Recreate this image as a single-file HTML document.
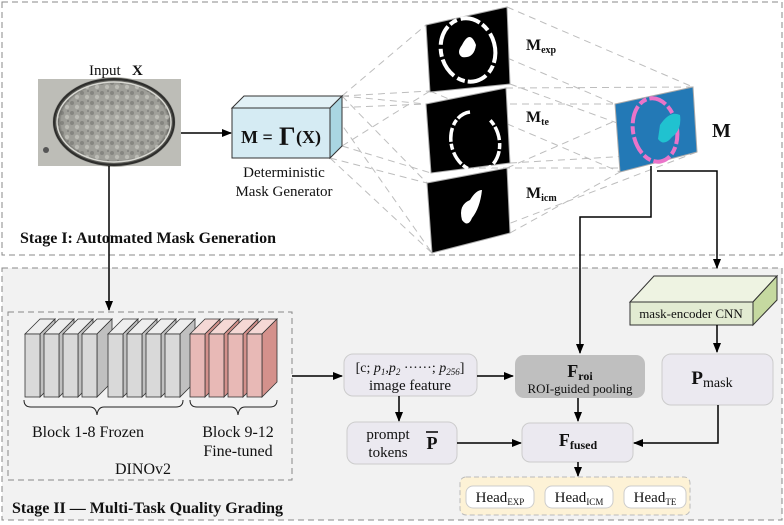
<!DOCTYPE html>
<html><head><meta charset="utf-8"><style>
html,body{margin:0;padding:0;background:#fff;}
svg{display:block;}
text{font-family:"Liberation Serif",serif;fill:#111;}
</style></head><body>
<svg width="784" height="525" viewBox="0 0 784 525" xmlns="http://www.w3.org/2000/svg">
<defs>
<marker id="ar" markerWidth="10" markerHeight="8" refX="9" refY="4" orient="auto" markerUnits="userSpaceOnUse">
<path d="M0,0 L10,4 L0,8 z" fill="#000"/></marker>
<radialGradient id="emb" cx="50%" cy="50%" r="50%">
<stop offset="0" stop-color="#a8a8a2"/><stop offset="0.85" stop-color="#9e9e98"/><stop offset="0.94" stop-color="#4a4a46"/><stop offset="1" stop-color="#c0c0ba"/></radialGradient>
<pattern id="tex" width="10" height="10" patternUnits="userSpaceOnUse">
<circle cx="2" cy="3" r="2" fill="#6a6a66" opacity="0.5"/><circle cx="7" cy="7" r="2.2" fill="#d0d0ca" opacity="0.6"/><circle cx="8" cy="1" r="1" fill="#555" opacity="0.4"/></pattern>
</defs>
<rect x="2" y="2" width="780" height="253" fill="#fff" stroke="#888" stroke-dasharray="6,4"/>
<rect x="2" y="268" width="780" height="252" fill="#f2f2f2" stroke="#888" stroke-dasharray="6,4"/>

<g stroke="#bdbdbd" stroke-dasharray="7,5" fill="none" stroke-width="1">
<line x1="342" y1="96" x2="426" y2="25"/><line x1="342" y1="96" x2="430" y2="91"/>
<line x1="342" y1="96" x2="426" y2="104"/><line x1="342" y1="96" x2="427" y2="183"/>
<line x1="342" y1="146" x2="430" y2="91"/><line x1="342" y1="146" x2="431" y2="173"/>
<line x1="330" y1="108" x2="426" y2="104"/><line x1="330" y1="108" x2="432" y2="253"/>
<line x1="330" y1="158" x2="427" y2="183"/><line x1="330" y1="158" x2="432" y2="253"/>
<line x1="507" y1="7" x2="693" y2="87"/><line x1="430" y1="25" x2="615" y2="104"/>
<line x1="510" y1="84" x2="697" y2="152"/><line x1="430" y1="91" x2="620" y2="172"/>
<line x1="426" y1="104" x2="615" y2="104"/><line x1="506" y1="88" x2="693" y2="87"/>
<line x1="510" y1="163" x2="697" y2="152"/><line x1="431" y1="168" x2="620" y2="168"/>
<line x1="507" y1="168" x2="693" y2="87"/><line x1="432" y1="253" x2="697" y2="152"/>
<line x1="510" y1="233" x2="620" y2="172"/>
</g>

<rect x="38" y="79" width="143" height="87" fill="#bdbdb7"/>
<ellipse cx="114" cy="122" rx="62" ry="45" fill="url(#emb)"/>
<ellipse cx="114" cy="122" rx="56" ry="40" fill="url(#tex)"/>
<ellipse cx="114" cy="122" rx="60" ry="43" fill="none" stroke="#2e2e2c" stroke-width="2"/>
<ellipse cx="114" cy="122" rx="57" ry="40" fill="none" stroke="#d8d8d2" stroke-width="1.5"/>
<circle cx="46" cy="150" r="3" fill="#555"/>
<text x="89" y="75" font-size="15">Input</text><text x="132" y="75" font-size="15" font-weight="bold">X</text>
<line x1="181" y1="133" x2="231" y2="133" stroke="#000" stroke-width="1.5" marker-end="url(#ar)"/>

<polygon points="232,108 244,96 342,96 330,108" fill="#e2f1f6" stroke="#333"/>
<polygon points="330,108 342,96 342,146 330,158" fill="#a9d6e2" stroke="#333"/>
<rect x="232" y="108" width="98" height="50" fill="#d5ebf3" stroke="#333"/>
<text x="241" y="143" font-size="18" font-weight="bold">M =</text>
<text x="279" y="145" font-size="26" font-weight="bold">Γ</text>
<text x="296" y="143" font-size="18" font-weight="bold">(X)</text>
<text x="284" y="177" font-size="15" text-anchor="middle">Deterministic</text>
<text x="284" y="196" font-size="15" text-anchor="middle">Mask Generator</text>
<text x="20" y="243" font-size="16" font-weight="bold">Stage I: Automated Mask Generation</text>

<polygon points="426,25 507,7 510,84 430,92" fill="#000" stroke="#aaa"/>
<ellipse cx="468" cy="50" rx="27" ry="32" fill="none" stroke="#fff" stroke-width="4" stroke-dasharray="20,3,8,4" transform="rotate(-15 468 50)"/>
<path d="M462,45 q8,-16 14,0 q-2,14 -14,12 q-6,-4 0,-12z" fill="#fff"/>
<polygon points="426,104 506,88 510,163 431,173" fill="#000" stroke="#aaa"/>
<path d="M470,112 a24,30 -15 1 0 20,8" fill="none" stroke="#fff" stroke-width="3.5" stroke-dasharray="14,2,6,3"/>
<polygon points="427,183 507,168 510,233 432,253" fill="#000" stroke="#aaa"/>
<path d="M462,220 q-4,-15 8,-20 q6,-10 12,-10 q-2,18 -10,28 q-4,10 -10,2z" fill="#fff"/>
<text x="526" y="50" font-size="16" font-weight="bold">M<tspan font-size="10" dy="3">exp</tspan></text>
<text x="526" y="122" font-size="16" font-weight="bold">M<tspan font-size="10" dy="3">te</tspan></text>
<text x="526" y="198" font-size="16" font-weight="bold">M<tspan font-size="10" dy="3">icm</tspan></text>

<polygon points="615,104 693,87 697,152 620,172" fill="#2379b6" stroke="#aaa"/>
<ellipse cx="655" cy="130" rx="22" ry="32" fill="none" stroke="#ea74c9" stroke-width="4" stroke-dasharray="18,3,8,3" transform="rotate(-10 655 130)"/>
<path d="M660,125 q10,-15 20,-10 q2,15 -8,22 q-8,10 -14,2z" fill="#20c2d0"/>
<text x="712" y="137" font-size="20" font-weight="bold">M</text>

<polyline points="651,166 651,217 580,217 580,353" fill="none" stroke="#000" stroke-width="1.5" marker-end="url(#ar)"/>
<polyline points="657,171 717,171 717,268" fill="none" stroke="#000" stroke-width="1.5" marker-end="url(#ar)"/>
<line x1="109" y1="166" x2="109" y2="310" stroke="#000" stroke-width="1.5" marker-end="url(#ar)"/>

<rect x="8" y="312" width="284" height="168" fill="none" stroke="#888" stroke-dasharray="6,4"/>
<g stroke="#333" stroke-width="0.8">
<polygon points="25,334 40,319 55,319 40,334" fill="#eee"/><polygon points="40,334 55,319 55,382 40,397" fill="#c0c0c0"/><rect x="25" y="334" width="15" height="63" fill="#d9d9d9"/>
<polygon points="44,334 59,319 74,319 59,334" fill="#eee"/><polygon points="59,334 74,319 74,382 59,397" fill="#c0c0c0"/><rect x="44" y="334" width="15" height="63" fill="#d9d9d9"/>
<polygon points="63,334 78,319 93,319 78,334" fill="#eee"/><polygon points="78,334 93,319 93,382 78,397" fill="#c0c0c0"/><rect x="63" y="334" width="15" height="63" fill="#d9d9d9"/>
<polygon points="82,334 97,319 112,319 97,334" fill="#eee"/><polygon points="97,334 112,319 112,382 97,397" fill="#c0c0c0"/><rect x="82" y="334" width="15" height="63" fill="#d9d9d9"/>
<polygon points="108,334 123,319 138,319 123,334" fill="#eee"/><polygon points="123,334 138,319 138,382 123,397" fill="#c0c0c0"/><rect x="108" y="334" width="15" height="63" fill="#d9d9d9"/>
<polygon points="127,334 142,319 157,319 142,334" fill="#eee"/><polygon points="142,334 157,319 157,382 142,397" fill="#c0c0c0"/><rect x="127" y="334" width="15" height="63" fill="#d9d9d9"/>
<polygon points="146,334 161,319 176,319 161,334" fill="#eee"/><polygon points="161,334 176,319 176,382 161,397" fill="#c0c0c0"/><rect x="146" y="334" width="15" height="63" fill="#d9d9d9"/>
<polygon points="165,334 180,319 195,319 180,334" fill="#eee"/><polygon points="180,334 195,319 195,382 180,397" fill="#c0c0c0"/><rect x="165" y="334" width="15" height="63" fill="#d9d9d9"/>
<polygon points="190,334 205,319 220,319 205,334" fill="#f5d8d5"/><polygon points="205,334 220,319 220,382 205,397" fill="#d4918c"/><rect x="190" y="334" width="15" height="63" fill="#e8b9b6"/>
<polygon points="209,334 224,319 239,319 224,334" fill="#f5d8d5"/><polygon points="224,334 239,319 239,382 224,397" fill="#d4918c"/><rect x="209" y="334" width="15" height="63" fill="#e8b9b6"/>
<polygon points="228,334 243,319 258,319 243,334" fill="#f5d8d5"/><polygon points="243,334 258,319 258,382 243,397" fill="#d4918c"/><rect x="228" y="334" width="15" height="63" fill="#e8b9b6"/>
<polygon points="247,334 262,319 277,319 262,334" fill="#f5d8d5"/><polygon points="262,334 277,319 277,382 262,397" fill="#d4918c"/><rect x="247" y="334" width="15" height="63" fill="#e8b9b6"/>
</g>
<path d="M24,400 q0,7 7,7 L90,407 q6,0 7,8 q1,-8 7,-8 L176,407 q7,0 7,-7" fill="none" stroke="#222"/>
<path d="M190,400 q0,7 7,7 L231,407 q6,0 7,8 q1,-8 7,-8 L270,407 q7,0 7,-7" fill="none" stroke="#222"/>
<text x="88" y="437" font-size="16" text-anchor="middle">Block 1-8 Frozen</text>
<text x="238" y="437" font-size="16" text-anchor="middle">Block 9-12</text>
<text x="238" y="456" font-size="16" text-anchor="middle">Fine-tuned</text>
<text x="143" y="474" font-size="16" text-anchor="middle">DINOv2</text>
<text x="12" y="513" font-size="16" font-weight="bold">Stage II — Multi-Task Quality Grading</text>
<line x1="292" y1="376" x2="342" y2="376" stroke="#000" stroke-width="1.5" marker-end="url(#ar)"/>

<rect x="344" y="354" width="133" height="42" rx="9" fill="#ebe9f0" stroke="#ccc"/>
<text x="410" y="372" font-size="14" text-anchor="middle">[c; <tspan font-style="italic">p<tspan font-size="9" dy="3">1</tspan><tspan dy="-3">,p</tspan><tspan font-size="9" dy="3">2</tspan></tspan><tspan dy="-3"> ······; </tspan><tspan font-style="italic">p<tspan font-size="9" dy="3">256</tspan></tspan><tspan dy="-3">]</tspan></text>
<text x="410" y="390" font-size="15" text-anchor="middle">image feature</text>
<line x1="477" y1="376" x2="513" y2="376" stroke="#000" stroke-width="1.5" marker-end="url(#ar)"/>
<line x1="399" y1="396" x2="399" y2="421" stroke="#000" stroke-width="1.5" marker-end="url(#ar)"/>

<rect x="515" y="355" width="130" height="43" rx="9" fill="#bfbfbf"/>
<text x="580" y="377" font-size="18" font-weight="bold" text-anchor="middle">F<tspan font-size="12" dy="3">roi</tspan></text>
<text x="580" y="393" font-size="13" text-anchor="middle">ROI-guided pooling</text>
<line x1="578" y1="398" x2="578" y2="421" stroke="#000" stroke-width="1.5" marker-end="url(#ar)"/>

<rect x="347" y="422" width="110" height="42" rx="9" fill="#ebe9f0" stroke="#ccc"/>
<text x="388" y="439" font-size="15" text-anchor="middle">prompt</text>
<text x="388" y="457" font-size="15" text-anchor="middle">tokens</text>
<text x="432" y="449" font-size="18" font-weight="bold" text-anchor="middle">P</text>
<line x1="426" y1="432" x2="438" y2="432" stroke="#000" stroke-width="1.5"/>
<line x1="457" y1="443" x2="521" y2="443" stroke="#000" stroke-width="1.5" marker-end="url(#ar)"/>

<rect x="522" y="423" width="111" height="39" rx="8" fill="#ebe9f0" stroke="#ccc"/>
<text x="578" y="446" font-size="18" font-weight="bold" text-anchor="middle">F<tspan font-size="12" dy="3">fused</tspan></text>
<line x1="578" y1="462" x2="578" y2="476" stroke="#000" stroke-width="1.5" marker-end="url(#ar)"/>

<polygon points="630,302 654,276 777,276 753,302" fill="#eef3e2" stroke="#333"/>
<polygon points="753,302 777,276 777,300 753,325" fill="#c5d9a0" stroke="#333"/>
<rect x="630" y="302" width="123" height="23" fill="#e2ebd2" stroke="#333"/>
<text x="691" y="318" font-size="13" text-anchor="middle">mask-encoder CNN</text>
<line x1="717" y1="325" x2="717" y2="352" stroke="#000" stroke-width="1.5" marker-end="url(#ar)"/>

<rect x="662" y="354" width="111" height="51" rx="9" fill="#ebe9f0" stroke="#ccc"/>
<text x="712" y="384" font-size="19" font-weight="bold" text-anchor="middle">P<tspan font-size="14" font-weight="normal" dy="3">mask</tspan></text>
<polyline points="718,405 718,443 634,443" fill="none" stroke="#000" stroke-width="1.5" marker-end="url(#ar)"/>

<rect x="460" y="477" width="230" height="38" rx="6" fill="#fdf2d6" stroke="#bbb" stroke-dasharray="5,3"/>
<rect x="466" y="486" width="68" height="22" rx="7" fill="#fff" stroke="#ccc"/>
<rect x="545" y="486" width="68" height="22" rx="7" fill="#fff" stroke="#ccc"/>
<rect x="624" y="486" width="62" height="22" rx="7" fill="#fff" stroke="#ccc"/>
<text x="500" y="502" font-size="15" text-anchor="middle">Head<tspan font-size="9" dy="3">EXP</tspan></text>
<text x="579" y="502" font-size="15" text-anchor="middle">Head<tspan font-size="9" dy="3">ICM</tspan></text>
<text x="655" y="502" font-size="15" text-anchor="middle">Head<tspan font-size="9" dy="3">TE</tspan></text>
</svg>
</body></html>
